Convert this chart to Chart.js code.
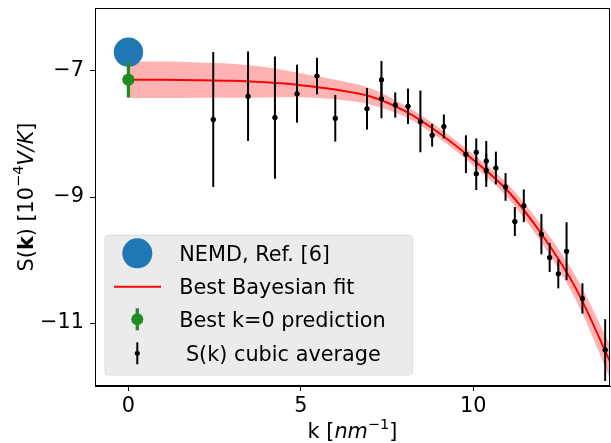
<!DOCTYPE html>
<html>
<head>
<meta charset="utf-8">
<script src="https://cdn.jsdelivr.net/npm/chart.js@4.4.1/dist/chart.umd.min.js"></script>
<style>
  body { margin: 0; background: #fff; }
  canvas { display: block; }
</style>
</head>
<body>
<canvas id="sk-chart" width="611" height="443"></canvas>
<script>
// tick positions
const kTicks = [0, 5, 10];
const sTicks = [-11, -9, -7];

// NEMD reference value
const nemdK = [0];
const nemdS = [-6.70];

// best k=0 prediction
const predK = [0];
const predS = [-7.14];
const predErr = [0.28];

// S(k) cubic average
const cubicK = [2.46, 3.47, 4.25, 4.89, 5.47, 6.00, 6.92, 7.34, 7.34, 7.74, 8.11, 8.47, 8.81, 9.15,
  9.79, 10.09, 10.09, 10.38, 10.38, 10.66, 10.94, 11.21, 11.47, 11.98, 12.22, 12.47, 12.71, 13.17, 13.83];
const cubicS = [-7.77, -7.40, -7.74, -7.36, -7.08, -7.75, -7.60, -7.14, -7.44, -7.54, -7.56, -7.80, -8.02, -7.88,
  -8.32, -8.29, -8.63, -8.43, -8.58, -8.54, -8.84, -9.39, -9.14, -9.59, -9.96, -10.22, -9.86, -10.61, -11.43];
const cubicErr = [1.07, 0.71, 0.97, 0.46, 0.29, 0.37, 0.33, 0.30, 0.31, 0.20, 0.28, 0.49, 0.18, 0.19,
  0.30, 0.22, 0.26, 0.32, 0.26, 0.26, 0.22, 0.23, 0.26, 0.32, 0.23, 0.23, 0.46, 0.24, 0.49];

// best Bayesian fit and its band
const fitK = [0, 1, 2, 3, 4, 5, 6, 7, 8, 9, 10, 11, 12, 13, 14];
const fitS = [-7.14, -7.14, -7.145, -7.155, -7.18, -7.225, -7.295, -7.40, -7.63, -7.98, -8.41, -8.90, -9.60, -10.47, -11.65];
const fitUpper = [-6.85, -6.85, -6.865, -6.885, -6.94, -7.035, -7.14, -7.27, -7.54, -7.895, -8.32, -8.79, -9.46, -10.28, -11.38];
const fitLower = [-7.43, -7.43, -7.425, -7.425, -7.42, -7.415, -7.45, -7.53, -7.72, -8.065, -8.50, -9.01, -9.74, -10.66, -11.92];

const FONT = 'DejaVu Sans';
const FS = 20.8;

const pts = (xs, ys) => xs.map((x, i) => ({ x: x, y: ys[i] }));
const minus = (v) => (v < 0 ? '\u2212' + Math.abs(v) : String(v));

// error bars, drawn from the y scale
const errorBarPlugin = {
  id: 'errorBars',
  afterDatasetsDraw(chart) {
    const ctx = chart.ctx;
    const ys = chart.scales.y;
    const area = chart.chartArea;
    ctx.save();
    ctx.beginPath();
    ctx.rect(area.left, area.top, area.right - area.left, area.bottom - area.top);
    ctx.clip();
    chart.data.datasets.forEach((ds, i) => {
      if (!ds.errorBars) return;
      const meta = chart.getDatasetMeta(i);
      ctx.strokeStyle = ds.errorColor;
      ctx.lineWidth = ds.errorWidth;
      meta.data.forEach((el, j) => {
        const v = ds.data[j].y;
        const e = ds.errorBars[j];
        ctx.beginPath();
        ctx.moveTo(el.x, ys.getPixelForValue(v + e));
        ctx.lineTo(el.x, ys.getPixelForValue(v - e));
        ctx.stroke();
      });
      // redraw the dots over the bars
      meta.data.forEach((el) => {
        ctx.fillStyle = ds.pointBackgroundColor;
        ctx.beginPath();
        ctx.arc(el.x, el.y, ds.pointRadius, 0, Math.PI * 2);
        ctx.fill();
      });
    });
    ctx.restore();
  }
};

function richText(ctx, parts, x, y, align) {
  const fontFor = (p) => {
    const size = p.sup ? FS * 0.7 : FS;
    const st = p.style === 'italic' ? 'italic ' : '';
    const wt = p.style === 'bold' ? 'bold ' : '';
    return st + wt + size + 'px "' + FONT + '"';
  };
  let total = 0;
  parts.forEach((p) => { ctx.font = fontFor(p); p.w = ctx.measureText(p.t).width; total += p.w; });
  let cx = align === 'center' ? x - total / 2 : x;
  ctx.textBaseline = 'alphabetic';
  ctx.textAlign = 'left';
  parts.forEach((p) => {
    ctx.font = fontFor(p);
    ctx.fillText(p.t, cx, p.sup ? y - FS * 0.45 : y);
    cx += p.w;
  });
}

const decorPlugin = {
  id: 'decor',
  afterDraw(chart) {
    const ctx = chart.ctx;
    const a = chart.chartArea;
    ctx.save();
    // frame
    ctx.strokeStyle = '#000';
    ctx.lineWidth = 1;
    ctx.strokeRect(a.left + 0.5, a.top + 0.5, a.right - a.left - 1, a.bottom - a.top - 1);

    ctx.fillStyle = '#000';
    // x title
    richText(ctx, [
      { t: 'k [' }, { t: 'nm', style: 'italic' }, { t: '\u22121', sup: true }, { t: ']' }
    ], (a.left + a.right) / 2, 438, 'center');

    // y title
    ctx.save();
    ctx.translate(32.5, (a.top + a.bottom) / 2);
    ctx.rotate(-Math.PI / 2);
    richText(ctx, [
      { t: 'S(' }, { t: 'k', style: 'bold' }, { t: ') [10' }, { t: '\u22124', sup: true },
      { t: 'V/K', style: 'italic' }, { t: ']' }
    ], 0, 0, 'center');
    ctx.restore();

    // legend
    const lx = 105, ly = 235, lw = 307.7, lh = 140;
    ctx.beginPath();
    ctx.roundRect(lx, ly, lw, lh, 4);
    ctx.fillStyle = '#ebebeb';
    ctx.fill();
    ctx.strokeStyle = '#dcdcdc';
    ctx.lineWidth = 1;
    ctx.stroke();

    const mx = 137.3;
    const rows = [253.3, 286.7, 319.3, 353.3];
    ctx.fillStyle = '#1f77b4';
    ctx.beginPath(); ctx.arc(mx, rows[0], 15, 0, Math.PI * 2); ctx.fill();

    ctx.strokeStyle = 'red'; ctx.lineWidth = 2;
    ctx.beginPath(); ctx.moveTo(114, rows[1]); ctx.lineTo(161, rows[1]); ctx.stroke();

    ctx.strokeStyle = 'forestgreen'; ctx.fillStyle = 'forestgreen'; ctx.lineWidth = 3.3;
    ctx.beginPath(); ctx.moveTo(mx, rows[2] - 11); ctx.lineTo(mx, rows[2] + 11); ctx.stroke();
    ctx.beginPath(); ctx.arc(mx, rows[2], 6, 0, Math.PI * 2); ctx.fill();

    ctx.strokeStyle = '#000'; ctx.fillStyle = '#000'; ctx.lineWidth = 2;
    ctx.beginPath(); ctx.moveTo(mx, rows[3] - 11); ctx.lineTo(mx, rows[3] + 11); ctx.stroke();
    ctx.beginPath(); ctx.arc(mx, rows[3], 2.5, 0, Math.PI * 2); ctx.fill();

    const labels = ['NEMD, Ref. [6]', 'Best Bayesian fit', 'Best k=0 prediction', ' S(k) cubic average'];
    ctx.font = FS + 'px "' + FONT + '"';
    ctx.textAlign = 'left';
    ctx.textBaseline = 'alphabetic';
    labels.forEach((t, i) => ctx.fillText(t, 179.3, rows[i] + 7.6));
    ctx.restore();
  }
};

const canvas = document.getElementById('sk-chart');
new Chart(canvas, {
  type: 'line',
  data: {
    datasets: [
      {
        label: 'band upper',
        data: pts(fitK, fitUpper),
        borderWidth: 0,
        pointRadius: 0,
        backgroundColor: 'rgba(255, 0, 0, 0.3)',
        fill: '+1',
        cubicInterpolationMode: 'monotone',
        order: 10
      },
      {
        label: 'band lower',
        data: pts(fitK, fitLower),
        borderWidth: 0,
        pointRadius: 0,
        fill: false,
        cubicInterpolationMode: 'monotone',
        order: 9
      },
      {
        label: 'Best Bayesian fit',
        data: pts(fitK, fitS),
        borderColor: 'red',
        borderWidth: 2,
        pointRadius: 0,
        fill: false,
        cubicInterpolationMode: 'monotone',
        order: 8
      },
      {
        label: 'S(k) cubic average',
        data: pts(cubicK, cubicS),
        showLine: false,
        pointRadius: 2.5,
        pointBorderWidth: 0,
        pointBackgroundColor: '#000',
        errorBars: cubicErr,
        errorColor: '#000',
        errorWidth: 2,
        order: 7
      },
      {
        label: 'NEMD, Ref. [6]',
        data: pts(nemdK, nemdS),
        showLine: false,
        pointRadius: 14.7,
        pointBorderWidth: 0,
        pointBackgroundColor: '#1f77b4',
        order: 6
      },
      {
        label: 'Best k=0 prediction',
        data: pts(predK, predS),
        showLine: false,
        pointRadius: 6,
        pointBorderWidth: 0,
        pointBackgroundColor: 'forestgreen',
        errorBars: predErr,
        errorColor: 'forestgreen',
        errorWidth: 3.3,
        order: 5
      }
    ]
  },
  options: {
    responsive: false,
    animation: false,
    devicePixelRatio: 1,
    layout: { autoPadding: false, padding: { left: 0, right: 1, top: 8, bottom: 0 } },
    plugins: {
      legend: { display: false },
      tooltip: { enabled: false }
    },
    scales: {
      x: {
        type: 'linear',
        min: -0.97,
        max: 13.97,
        afterBuildTicks: (axis) => { axis.ticks = kTicks.map((v) => ({ value: v })); },
        afterFit: (scale) => {
          scale.height = 57;
          scale.paddingLeft = 0;
          scale.paddingRight = 0;
        },
        grid: { drawOnChartArea: false, tickLength: 5, tickColor: '#000', tickWidth: 1 },
        border: { display: true, color: '#000', width: 1 },
        ticks: {
          color: '#000',
          padding: 3,
          maxRotation: 0,
          font: { family: FONT, size: FS },
          callback: (v) => minus(v)
        }
      },
      y: {
        type: 'linear',
        min: -12,
        max: -6,
        afterBuildTicks: (axis) => { axis.ticks = sTicks.map((v) => ({ value: v })); },
        afterFit: (scale) => {
          scale.width = 95;
          scale.paddingTop = 0;
          scale.paddingBottom = 0;
        },
        grid: { drawOnChartArea: false, tickLength: 5, tickColor: '#000', tickWidth: 1 },
        border: { display: true, color: '#000', width: 1 },
        ticks: {
          color: '#000',
          padding: 6,
          font: { family: FONT, size: FS },
          callback: (v) => minus(v)
        }
      }
    }
  },
  plugins: [errorBarPlugin, decorPlugin]
});
</script>
</body>
</html>
